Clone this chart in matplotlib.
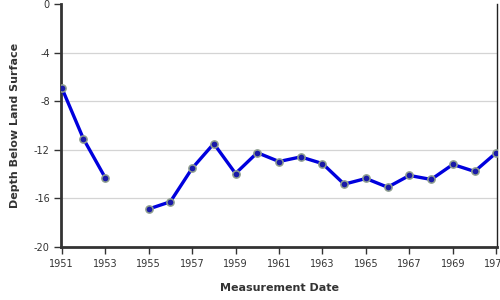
import numpy as np
import matplotlib
matplotlib.use("Agg")
import matplotlib.pyplot as plt

plt.rcParams['font.family'] = ['DejaVu Sans']
plt.rcParams['axes.unicode_minus'] = False

years = [1951, 1952, 1953, 1954, 1955, 1956, 1957, 1958, 1959, 1960, 1961,
         1962, 1963, 1964, 1965, 1966, 1967, 1968, 1969, 1970, 1971]
depth = [-6.88, -11.1, -14.3, np.nan, -16.9, -16.3, -13.55, -11.5, -13.97,
         -12.25, -12.98, -12.6, -13.15, -14.85, -14.38, -15.1, -14.13,
         -14.46, -13.22, -13.8, -12.25]
xticks = list(range(1951, 1972, 2))
yticks = [-20, -16, -12, -8, -4, 0]

fig = plt.figure(figsize=(5, 3), dpi=100)
ax = fig.add_axes([0.122, 0.178, 0.872, 0.808])

ax.plot(years, depth, color='#0000dd', lw=2.4, zorder=3,
        marker='o', markersize=5.2, markerfacecolor='#1a1aa8',
        markeredgecolor='#8f9f8f', markeredgewidth=1.1)

ax.set_xlim(1950.97, 1971.03)
ax.set_ylim(-20, 0)
ax.set_xticks(xticks)
ax.set_yticks(yticks)
ax.set_xticklabels([str(x) for x in xticks])
ax.set_yticklabels([str(y) for y in yticks])

for y in [-16, -12, -8, -4]:
    ax.axhline(y, color='#d4d4d4', lw=0.9, zorder=1)

ax.spines['top'].set_visible(False)
ax.spines['left'].set_linewidth(2)
ax.spines['bottom'].set_linewidth(2)
ax.spines['left'].set_color('#333333')
ax.spines['bottom'].set_color('#333333')
ax.spines['right'].set_linewidth(1)
ax.spines['right'].set_color('#222222')

ax.tick_params(axis='both', labelsize=7, colors='#333333', length=5,
               width=1, pad=3)
ax.tick_params(axis='x', pad=4)

ax.set_xlabel('Measurement Date', fontsize=8, fontweight='bold',
              color='#333333', labelpad=10)
ax.set_ylabel('Depth Below Land Surface', fontsize=8, fontweight='bold',
              color='#333333', labelpad=10)

fig.savefig('out.png', dpi=100)
